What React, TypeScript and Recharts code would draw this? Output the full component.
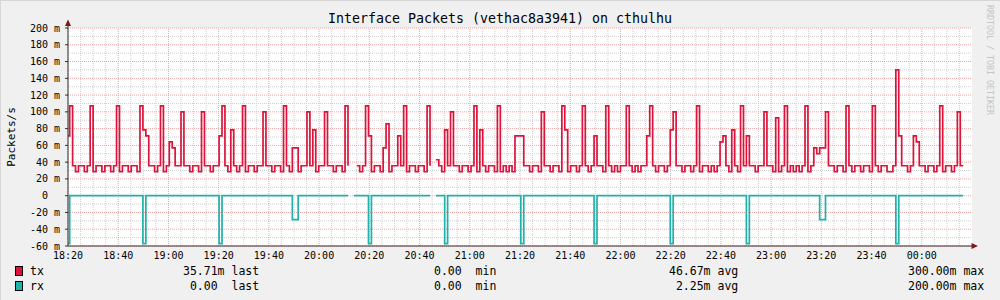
import React from 'react';
import {
  CartesianGrid,
  Line,
  LineChart,
  ReferenceLine,
  XAxis,
  YAxis,
} from 'recharts';

const TITLE = 'Interface Packets (vethac8a3941) on cthulhu';
const Y_LABEL = 'Packets/s';
const WATERMARK = 'RRDTOOL / TOBI OETIKER';
const FONT = "'DejaVu Sans Mono', monospace";

// minutes after 18:20
const TIME_TICKS = [0, 20, 40, 60, 80, 100, 120, 140, 160, 180, 200, 220, 240, 260, 280, 300, 320, 340];
const TIME_LABELS = [
  '18:20', '18:40', '19:00', '19:20', '19:40', '20:00', '20:20', '20:40', '21:00',
  '21:20', '21:40', '22:00', '22:20', '22:40', '23:00', '23:20', '23:40', '00:00',
];
const Y_TICKS = [-60, -40, -20, 0, 20, 40, 60, 80, 100, 120, 140, 160, 180, 200];
const Y_MINOR = [-50, -30, -10, 10, 30, 50, 70, 90, 110, 130, 150, 170, 190];

const SERIES_NAMES = ['tx', 'rx'];
const SERIES_COLORS = ['#dc143c', '#20b2aa'];
const LAST_VALUES = ['35.71m', ' 0.00 '];
const MIN_VALUES = ['0.00 ', '0.00 '];
const AVG_VALUES = ['46.67m', ' 2.25m'];
const MAX_VALUES = ['300.00m', '200.00m'];

// one sample every 70 s, first one starting just before 18:20
const STEP_START = -0.5;
const STEP_MINUTES = 7 / 6;

// values in milli packets/s
const TX = [
  71.43, 107.14, 35.71, 28.57, 35.71, 35.71, 28.57, 35.71, 107.14, 28.57,
  35.71, 35.71, 28.57, 35.71, 35.71, 28.57, 35.71, 107.14, 28.57, 35.71,
  35.71, 28.57, 35.71, 35.71, 28.57, 107.14, 78.57, 71.43, 35.71, 35.71,
  28.57, 35.71, 107.14, 28.57, 35.71, 64.29, 57.14, 35.71, 35.71, 100,
  35.71, 35.71, 28.57, 35.71, 35.71, 28.57, 100, 35.71, 35.71, 28.57,
  35.71, 35.71, 71.43, 107.14, 35.71, 28.57, 78.57, 35.71, 28.57, 35.71,
  107.14, 28.57, 35.71, 35.71, 28.57, 35.71, 35.71, 100, 35.71, 35.71,
  28.57, 35.71, 35.71, 28.57, 107.14, 35.71, 28.57, 57.14, 57.14, 28.57,
  35.71, 35.71, 100, 35.71, 78.57, 28.57, 35.71, 35.71, 100, 35.71,
  35.71, 28.57, 35.71, 35.71, 28.57, 107.14, 35.71, null, null, 35.71,
  28.57, 35.71, 107.14, 71.43, 28.57, 35.71, 35.71, 28.57, 57.14, 85.71,
  28.57, 35.71, 35.71, 71.43, 35.71, 107.14, 28.57, 35.71, 35.71, 28.57,
  35.71, 35.71, 28.57, 107.14, 35.71, null, 42.86, 35.71, 28.57, 78.57,
  35.71, 100, 35.71, 35.71, 28.57, 35.71, 35.71, 28.57, 35.71, 107.14,
  28.57, 78.57, 35.71, 28.57, 35.71, 35.71, 28.57, 107.14, 28.57, 35.71,
  28.57, 35.71, 28.57, 71.43, 71.43, 71.43, 35.71, 35.71, 28.57, 35.71,
  35.71, 28.57, 100, 35.71, 35.71, 28.57, 35.71, 35.71, 28.57, 107.14,
  78.57, 28.57, 35.71, 35.71, 28.57, 35.71, 107.14, 35.71, 28.57, 35.71,
  71.43, 35.71, 35.71, 28.57, 107.14, 35.71, 28.57, 35.71, 28.57, 35.71,
  35.71, 107.14, 35.71, 28.57, 35.71, 28.57, 35.71, 35.71, 71.43, 107.14,
  35.71, 28.57, 35.71, 35.71, 28.57, 35.71, 78.57, 100, 35.71, 35.71,
  28.57, 35.71, 35.71, 28.57, 35.71, 107.14, 28.57, 35.71, 35.71, 28.57,
  35.71, 28.57, 35.71, 64.29, 71.43, 35.71, 28.57, 78.57, 35.71, 28.57,
  107.14, 35.71, 71.43, 35.71, 35.71, 28.57, 35.71, 35.71, 100, 35.71,
  35.71, 28.57, 92.86, 28.57, 35.71, 107.14, 28.57, 35.71, 28.57, 35.71,
  28.57, 35.71, 107.14, 28.57, 35.71, 57.14, 50, 57.14, 57.14, 100,
  35.71, 35.71, 28.57, 35.71, 35.71, 28.57, 107.14, 35.71, 28.57, 35.71,
  35.71, 28.57, 35.71, 35.71, 28.57, 107.14, 35.71, 28.57, 35.71, 35.71,
  28.57, 28.57, 35.71, 150, 71.43, 35.71, 35.71, 28.57, 35.71, 71.43,
  64.29, 35.71, 35.71, 28.57, 35.71, 35.71, 28.57, 35.71, 107.14, 28.57,
  35.71, 35.71, 28.57, 35.71, 100, 35.71,
];

// rx is drawn below the zero line
const RX = [
  -57.14, 0, 0, 0, 0, 0, 0, 0, 0, 0,
  0, 0, 0, 0, 0, 0, 0, 0, 0, 0,
  0, 0, 0, 0, 0, 0, -57.14, 0, 0, 0,
  0, 0, 0, 0, 0, 0, 0, 0, 0, 0,
  0, 0, 0, 0, 0, 0, 0, 0, 0, 0,
  0, 0, -57.14, 0, 0, 0, 0, 0, 0, 0,
  0, 0, 0, 0, 0, 0, 0, 0, 0, 0,
  0, 0, 0, 0, 0, 0, 0, -28.57, -28.57, 0,
  0, 0, 0, 0, 0, 0, 0, 0, 0, 0,
  0, 0, 0, 0, 0, 0, 0, null, 0, 0,
  0, 0, 0, -57.14, 0, 0, 0, 0, 0, 0,
  0, 0, 0, 0, 0, 0, 0, 0, 0, 0,
  0, 0, 0, 0, 0, null, 0, 0, 0, -57.14,
  0, 0, 0, 0, 0, 0, 0, 0, 0, 0,
  0, 0, 0, 0, 0, 0, 0, 0, 0, 0,
  0, 0, 0, 0, 0, -57.14, 0, 0, 0, 0,
  0, 0, 0, 0, 0, 0, 0, 0, 0, 0,
  0, 0, 0, 0, 0, 0, 0, 0, 0, 0,
  -57.14, 0, 0, 0, 0, 0, 0, 0, 0, 0,
  0, 0, 0, 0, 0, 0, 0, 0, 0, 0,
  0, 0, 0, 0, 0, 0, -57.14, 0, 0, 0,
  0, 0, 0, 0, 0, 0, 0, 0, 0, 0,
  0, 0, 0, 0, 0, 0, 0, 0, 0, 0,
  0, 0, -57.14, 0, 0, 0, 0, 0, 0, 0,
  0, 0, 0, 0, 0, 0, 0, 0, 0, 0,
  0, 0, 0, 0, 0, 0, 0, -28.57, -28.57, 0,
  0, 0, 0, 0, 0, 0, 0, 0, 0, 0,
  0, 0, 0, 0, 0, 0, 0, 0, 0, 0,
  0, 0, 0, -57.14, 0, 0, 0, 0, 0, 0,
  0, 0, 0, 0, 0, 0, 0, 0, 0, 0,
  0, 0, 0, 0, 0, 0,
];

const chartData = TX.map((tx, i) => ({
  t: STEP_START + i * STEP_MINUTES,
  tx,
  rx: RX[i],
}));
// closing point so the last step gets its width
chartData.push({
  t: STEP_START + TX.length * STEP_MINUTES,
  tx: TX[TX.length - 1],
  rx: RX[RX.length - 1],
});

const X_MINOR = Array.from({ length: 72 }, (_, i) => i * 5 + 5).filter(
  (m) => m % 20 !== 0,
);

const MINOR_GRID = '#cfcfcf';
const MAJOR_GRID = '#f0a4a4';
const AXIS = '#303030';
const ARROW = '#801818';

const YTick = (props: any) => {
  const { x, y, payload } = props;
  const v = payload.value;
  const label = v === 0 ? '0  ' : `${v} m`;
  return (
    <text
      x={x}
      y={y}
      dy={3.5}
      textAnchor='end'
      fontFamily={FONT}
      fontSize={10}
      fill='#000'
      xmlSpace='preserve'
      style={{ whiteSpace: 'pre' }}
    >
      {label}
    </text>
  );
};

const XTick = (props: any) => {
  const { x, y, payload } = props;
  const idx = TIME_TICKS.indexOf(payload.value);
  return (
    <text
      x={x}
      y={y}
      dy={8}
      textAnchor='middle'
      fontFamily={FONT}
      fontSize={10}
      fill='#000'
    >
      {TIME_LABELS[idx]}
    </text>
  );
};

export default function App() {
  return (
    <div
      style={{
        position: 'absolute',
        left: 0,
        top: 0,
        width: 1000,
        height: 300,
        background: '#f0f0f0',
        boxSizing: 'border-box',
        borderTop: '1px solid #d6d6d6',
        borderLeft: '1px solid #d6d6d6',
        overflow: 'hidden',
      }}
    >
      <div style={{ position: 'absolute', left: -1, top: -1 }}>
        <LineChart
          width={1000}
          height={300}
          data={chartData}
          margin={{ top: 28, right: 28, bottom: 0, left: 0 }}
        >
          <CartesianGrid
            fill='#ffffff'
            stroke='none'
            horizontal={false}
            vertical={false}
          />

          {X_MINOR.map((m) => (
            <ReferenceLine
              key={`xm${m}`}
              x={m}
              stroke={MINOR_GRID}
              strokeDasharray='1 1'
              ifOverflow='hidden'
              zIndex={-50}
            />
          ))}
          {Y_MINOR.map((v) => (
            <ReferenceLine
              key={`ym${v}`}
              y={v}
              stroke={MINOR_GRID}
              strokeDasharray='1 1'
              zIndex={-50}
            />
          ))}
          {TIME_TICKS.map((m) => (
            <ReferenceLine
              key={`xM${m}`}
              x={m}
              stroke={MAJOR_GRID}
              strokeDasharray='1 1'
              zIndex={-40}
            />
          ))}
          {Y_TICKS.map((v) => (
            <ReferenceLine
              key={`yM${v}`}
              y={v}
              stroke={MAJOR_GRID}
              strokeDasharray='1 1'
              zIndex={-40}
            />
          ))}

          <XAxis
            dataKey='t'
            type='number'
            domain={[0, 360]}
            allowDataOverflow
            ticks={TIME_TICKS}
            interval={0}
            height={54}
            tickSize={3}
            tickMargin={2}
            tickLine={false}
            axisLine={{ stroke: AXIS }}
            tick={<XTick />}
          />
          <YAxis
            type='number'
            domain={[-60, 200]}
            ticks={Y_TICKS}
            interval={0}
            width={68}
            tickSize={3}
            tickMargin={5}
            tickLine={{ stroke: AXIS }}
            axisLine={{ stroke: AXIS }}
            tick={<YTick />}
          />

          <Line
            type='stepAfter'
            dataKey='tx'
            stroke={SERIES_COLORS[0]}
            strokeWidth={1.7}
            dot={false}
            activeDot={false}
            connectNulls={false}
            isAnimationActive={false}
          />
          <Line
            type='stepAfter'
            dataKey='rx'
            stroke={SERIES_COLORS[1]}
            strokeWidth={1.7}
            dot={false}
            activeDot={false}
            connectNulls={false}
            isAnimationActive={false}
          />
        </LineChart>
      </div>

      <svg
        width={1000}
        height={300}
        style={{ position: 'absolute', left: -1, top: -1, pointerEvents: 'none' }}
      >
        <text x={500} y={22.5} textAnchor='middle' fontFamily={FONT} fontSize={13.3} fill='#000'>
          {TITLE}
        </text>
        <text
          transform='translate(14.5,137) rotate(-90)'
          textAnchor='middle'
          fontFamily={FONT}
          fontSize={11}
          fill='#000'
        >
          {Y_LABEL}
        </text>
        <text
          transform='translate(987,5) rotate(90)'
          fontFamily={FONT}
          fontSize={8.3}
          fill='#c4c4c4'
        >
          {WATERMARK}
        </text>

        <line x1={68} y1={21} x2={68} y2={28} stroke={AXIS} />
        <polygon points='68,19.5 65,26 71,26' fill={ARROW} />
        <polygon points='978,246 971.5,243 971.5,249' fill={ARROW} />

        {SERIES_NAMES.map((name, i) => {
          const base = 275 + i * 15;
          return (
            <g key={name} fontFamily={FONT} fontSize={11.5} fill='#000'>
              <rect
                x={15.5}
                y={base - 8.5}
                width={7}
                height={9}
                fill={SERIES_COLORS[i]}
                stroke='#000'
              />
              <text x={30} y={base}>{name}</text>
              <text x={183} y={base} xmlSpace='preserve' style={{ whiteSpace: 'pre' }}>
                {`${LAST_VALUES[i]} last`}
              </text>
              <text x={434} y={base} xmlSpace='preserve' style={{ whiteSpace: 'pre' }}>
                {`${MIN_VALUES[i]} min`}
              </text>
              <text x={669} y={base} xmlSpace='preserve' style={{ whiteSpace: 'pre' }}>
                {`${AVG_VALUES[i]} avg`}
              </text>
              <text x={908} y={base} xmlSpace='preserve' style={{ whiteSpace: 'pre' }}>
                {`${MAX_VALUES[i]} max`}
              </text>
            </g>
          );
        })}
      </svg>
    </div>
  );
}
